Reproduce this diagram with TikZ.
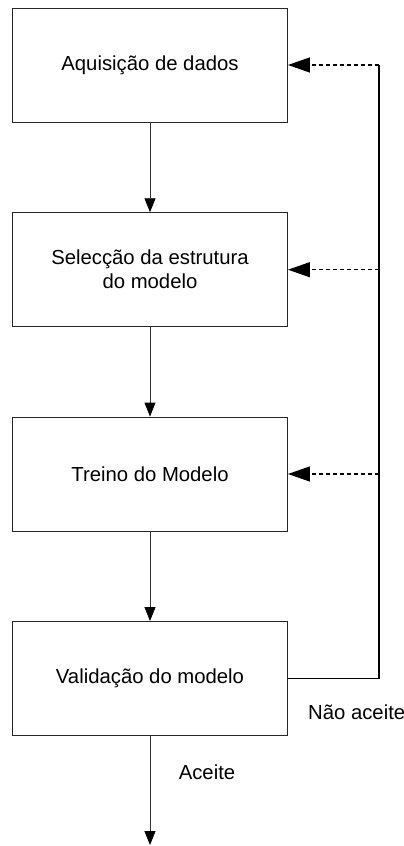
\documentclass[tikz,border=0pt]{standalone}
\usepackage{fontspec}
\setmainfont{Liberation Sans}
\usetikzlibrary{arrows.meta}
\begin{document}
\begin{tikzpicture}[x=1pt,y=-1pt,
  stepbox/.style={draw=black!85,line width=0.9pt,minimum width=275pt,minimum height=114pt,
    align=center,inner sep=0pt,font=\fontsize{20.3}{24}\selectfont},
  flow/.style={draw=black!80,line width=0.9pt,-{Triangle[length=14pt,width=11pt,fill=black,color=black]}},
  back/.style={draw=black,line width=1.2pt,dash pattern=on 4pt off 3pt,-{Triangle[length=22pt,width=15pt]}},
  lbl/.style={font=\fontsize{20.3}{24}\selectfont,inner sep=0pt}]
\useasboundingbox (0,0) rectangle (404,846);
\node[stepbox] (a) at (150,65) {Aquisição de dados};
\node[stepbox] (b) at (150,269.7) {Selecção da estrutura\\do modelo};
\node[stepbox] (c) at (150,474) {Treino do Modelo};
\node[stepbox] (d) at (150,678.5) {Validação do modelo};
\coordinate (end) at (150,845);
\coordinate (r4) at (379,678.5);
\coordinate (r1) at (379,65);
\coordinate (r2) at (379,269.7);
\coordinate (r3) at (379,474);
\draw[flow] (a) -- (b);
\draw[flow] (b) -- (c);
\draw[flow] (c) -- (d);
\draw[flow] (d) -- (end);
\draw[black,line width=1.4pt] (d.east) -- (r4) -- (r1);
\draw[back] (r1) -- (a.east);
\draw[back] (r2) -- (b.east);
\draw[back] (r3) -- (c.east);
\node[lbl,anchor=west] (na) at (308,712) {Não aceite};
\node[lbl] (ac) at (207,772) {Aceite};
\end{tikzpicture}
\end{document}
